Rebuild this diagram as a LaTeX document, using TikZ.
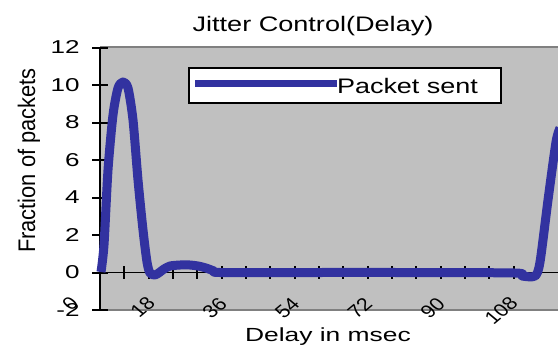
\documentclass[tikz,border=0pt]{standalone}
\usepackage{fontspec}
\setmainfont{Liberation Sans}
\usepackage{graphicx}
\definecolor{plotgray}{RGB}{192,192,192}
\definecolor{framegray}{RGB}{128,128,128}
\definecolor{series}{RGB}{50,50,160}
% horizontally widened text
\newcommand{\hstretch}[2]{\scalebox{#1}[1]{#2}}

\begin{document}
\begin{tikzpicture}[x=1bp,y=-1bp,
  txt/.style={inner sep=0pt, outer sep=0pt},
  ytl/.style={txt, anchor=east, font=\fontsize{18.6bp}{20bp}\selectfont},
  xtl/.style={txt, anchor=center, font=\fontsize{18bp}{20bp}\selectfont},
  axisline/.style={black, line width=2bp},
  tickline/.style={black, line width=1.8bp},
  seriesline/.style={series, line width=9bp, line join=round, line cap=butt},
]
\useasboundingbox (0,0) rectangle (558,347);
\fill[white] (0,0) rectangle (558,347);

% plot area
\fill[plotgray] (100,47) rectangle (558,310);
\draw[framegray, line width=1.5bp] (100,47) -- (558,47);
\draw[framegray, line width=1.5bp] (100,310) -- (558,310);

% x axis with tick marks every 6 ms
\draw[tickline] (100,272.5) -- (558,272.5);
\foreach \k in {1,...,18}
  \draw[tickline] ({100+24.33*\k},266) -- ({100+24.33*\k},279);

% y axis with tick marks and labels
\draw[axisline] (100,47) -- (100,310);
\foreach \v in {-2,0,2,4,6,8,10,12} {
  \draw[axisline] (92,{272.5-18.75*\v}) -- (108,{272.5-18.75*\v});
  \node[ytl] (ytick\v) at (79.5,{272.5-18.75*\v}) {\hstretch{1.4}{\v}};
}

% data series
\draw[seriesline] plot[smooth, tension=0.45] coordinates {
  (101,272) (104,245) (108,170) (113,115) (118,88) (123,82) (128,88)
  (133,120) (138,180) (143,230) (147,262) (150,273) (155,275) (160,272)
  (164,269) (170,266) (180,265) (190,265) (198,266) (206,268) (214,271)
  (220,272.5) (300,272.5) (400,272.5) (515,273) (522,276) (535,276)
  (540,262) (548,200) (556,142) (560,128)};

% legend
\node[draw=black, line width=2bp, fill=white, minimum width=312bp,
      minimum height=35bp, anchor=north west, inner sep=0pt] (legend) at (188,67) {};
\draw[seriesline, line width=7bp] (195,83) -- (337,83);
\node[txt, anchor=base west, font=\fontsize{21bp}{24bp}\selectfont] (legendtext)
  at (337,93.3) {\hstretch{1.285}{Packet sent}};

% x tick labels
\foreach \lab/\cx/\cy in {0/70/303.5, 18/142.5/307.5, 36/214.7/308, 54/287.3/308,
                          72/359.9/308, 90/432.5/308, 108/501/310.5}
  \node[xtl] (xtick\lab) at (\cx,\cy) {\hstretch{1.2}{\rotatebox{45}{\lab}}};

% titles
\node[txt, anchor=base, font=\fontsize{21bp}{24bp}\selectfont] (title)
  at (313,31.7) {\hstretch{1.29}{Jitter Control(Delay)}};
\node[txt, anchor=base west, font=\fontsize{19bp}{22bp}\selectfont] (xtitle)
  at (245,341.7) {\hstretch{1.39}{Delay in msec}};
\node[txt, anchor=base, rotate=90, font=\fontsize{24bp}{26bp}\selectfont] (ytitle)
  at (35,160.5) {\hstretch{0.91}{Fraction of packets}};
\end{tikzpicture}
\end{document}
